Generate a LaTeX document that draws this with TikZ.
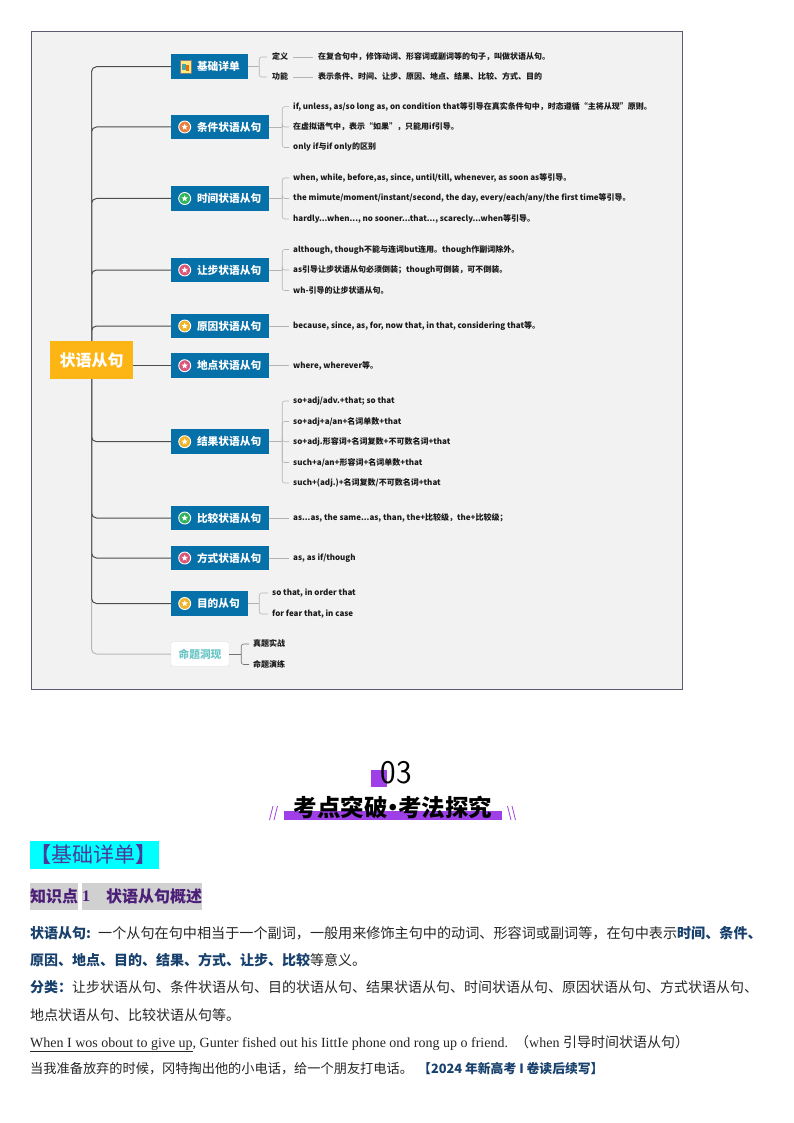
\documentclass[tikz,border=0pt]{standalone}
\usepackage{fontspec}
\usepackage{graphicx}
\setmainfont{Liberation Serif}
\newfontfamily\cjk{Noto Sans CJK SC}
\usetikzlibrary{shapes.geometric}
\definecolor{mapbg}{HTML}{F2F2F2}
\definecolor{frameline}{HTML}{5A5A70}
\definecolor{branchblue}{HTML}{0670A8}
\definecolor{mainyellow}{HTML}{FDB515}
\definecolor{twiggray}{HTML}{B4B4B4}
\definecolor{trunkgray}{HTML}{4D4D4D}
\definecolor{titlepurple}{HTML}{9E3FE8}
\definecolor{headcyan}{HTML}{00FFFF}
\definecolor{headink}{HTML}{4B3A9A}
\definecolor{subink}{HTML}{4B1E78}
\definecolor{subgray}{HTML}{D0D0D0}
\definecolor{bodyblue}{HTML}{17406D}
\definecolor{teal2}{HTML}{6CC5C5}
\definecolor{bOrange}{HTML}{E8813F}
\definecolor{bGreen}{HTML}{2FB35F}
\definecolor{bPink}{HTML}{D9577A}
\definecolor{bYellow}{HTML}{EFB42A}
\newcommand\fz[1]{\fontsize{#1}{#1}\selectfont}
\newcommand\zh[1]{{\cjk #1}}
\newcommand\hi[1]{{\cjk\bfseries\color{bodyblue}#1}}
\newcommand\badge[3]{%
  \node[badgedisc,fill=#2] (#1) at (184.7,#3) {};
  \node[badgestar] (#1s) at (#1.center) {};
}
\tikzset{
  mainbox/.style={fill=mainyellow,minimum width=83pt,minimum height=38pt,inner sep=0pt,text=white,font=\cjk\bfseries\fz{16}},
  branchbox/.style={fill=branchblue,minimum width=98pt,minimum height=24.5pt,inner sep=0pt,text=white,font=\cjk\bfseries\fz{10.7},text width=98pt,align=left},
  shortbox/.style={branchbox,minimum width=77pt,text width=77pt},
  kid/.style={anchor=west,inner xsep=4pt,inner ysep=0pt,text height=6.5pt,text depth=1.5pt,font=\cjk\bfseries\fz{8},text=black!90},
  twig/.style={draw=twiggray,line width=0.6pt,rounded corners=2.5pt},
  trunk/.style={draw=trunkgray,line width=1pt,rounded corners=5pt},
  spine/.style={draw=black!62,line width=1.5pt},
  badgedisc/.style={circle,draw=white,line width=0.9pt,minimum size=12pt,inner sep=0pt},
  badgestar/.style={star,star points=5,star point ratio=2.2,fill=white,minimum size=6.5pt,inner sep=0pt},
  bodyline/.style={anchor=base west,inner sep=0pt,font=\cjk\fz{14},text=black!85},
  slash/.style={draw=titlepurple,line width=0.8pt}
}
\begin{document}
\begin{tikzpicture}[x=1pt,y=-1pt]
\useasboundingbox (0,0) rectangle (794,1123);
\fill[white] (0,0) rectangle (794,1123);
\draw[draw=frameline,fill=mapbg,line width=0.7pt] (31,31) rectangle (682,689);

% main and branches
\node[mainbox] (main) at (91.5,360) {状语从句};
\node[shortbox] (b0) at (209.5,66.7) {\hspace*{26pt}基础详单};
\node[branchbox] (b1) at (220,127) {\hspace*{26pt}条件状语从句};
\node[branchbox] (b2) at (220,198.5) {\hspace*{26pt}时间状语从句};
\node[branchbox] (b3) at (220,270) {\hspace*{26pt}让步状语从句};
\node[branchbox] (b4) at (220,326) {\hspace*{26pt}原因状语从句};
\node[branchbox] (b5) at (220,365.7) {\hspace*{26pt}地点状语从句};
\node[branchbox] (b6) at (220,441.7) {\hspace*{26pt}结果状语从句};
\node[branchbox] (b7) at (220,518) {\hspace*{26pt}比较状语从句};
\node[branchbox] (b8) at (220,558) {\hspace*{26pt}方式状语从句};
\node[shortbox] (b9) at (209.5,603.5) {\hspace*{26pt}目的从句};
\node[draw=black!12,fill=white,rounded corners=2pt,minimum width=58pt,minimum height=24.5pt,inner sep=0pt,text=teal2,font=\cjk\bfseries\fz{10.7}] (b10) at (200,654) {命题洞现};

% trunk connectors
\draw[trunk,draw=black!28] (main.south) |- (b10.west);
\foreach \b in {b0,b1,b2,b3,b4} \draw[trunk] (main.north) |- (\b.west);
\foreach \b in {b6,b7,b8,b9} \draw[trunk] (main.south) |- (\b.west);
\draw[trunk] (main.east |- b5.west) -- (b5.west);
\draw[spine,shorten >=5pt] (main.north) -- (main.north |- b0.west);
\draw[spine,shorten >=5pt] (main.south) -- (main.south |- b9.west);

% cube icon
\fill[fill=orange!35!yellow!50] (180,60) rectangle (190.7,73);
\fill[fill=teal!70] (182,64) rectangle (186,70);
\fill[fill=orange!90!black] (185.5,65) rectangle (189,71);
\draw[draw=black!50,line width=0.3pt] (180,60) rectangle (190.7,73);

% badges
\badge{i1}{bOrange}{127}
\badge{i2}{bGreen}{198.5}
\badge{i3}{bPink}{270}
\badge{i4}{bYellow}{326}
\badge{i5}{bPink}{365.7}
\badge{i6}{bYellow}{441.7}
\badge{i7}{bGreen}{518}
\badge{i8}{bPink}{558}
\badge{i9}{bYellow}{603.5}

% children
\node[kid,inner xsep=5pt] (k0a) at (267,57) {定义};
\node[kid,inner xsep=5pt] (k0b) at (267,77) {功能};
\node[kid,inner xsep=5pt] (t0a) at (313,57) {在复合句中，修饰动词、形容词或副词等的句子，叫做状语从句。};
\node[kid,inner xsep=5pt] (t0b) at (313,77) {表示条件、时间、让步、原因、地点、结果、比较、方式、目的};
\draw[twig] (k0a.east) -- (t0a.west);
\draw[twig] (k0b.east) -- (t0b.west);

\node[kid] (k1a) at (289,106.7) {if, unless, as/so long as, on condition that等引导在真实条件句中，时态遵循“主将从现”原则。};
\node[kid] (k1b) at (289,127) {在虚拟语气中，表示“如果”，只能用if引导。};
\node[kid] (k1c) at (289,147.5) {only if与if only的区别};
\node[kid] (k2a) at (289,178) {when, while, before,as, since, until/till, whenever, as soon as等引导。};
\node[kid] (k2b) at (289,198.5) {the mimute/moment/instant/second, the day, every/each/any/the first time等引导。};
\node[kid] (k2c) at (289,219) {hardly...when..., no sooner...that..., scarecly...when等引导。};
\node[kid] (k3a) at (289,249.5) {although, though不能与连词but连用。though作副词除外。};
\node[kid] (k3b) at (289,270) {as引导让步状语从句必须倒装；though可倒装，可不倒装。};
\node[kid] (k3c) at (289,290.5) {wh-引导的让步状语从句。};
\node[kid] (k4a) at (289,326) {because, since, as, for, now that, in that, considering that等。};
\node[kid] (k5a) at (289,365.7) {where, wherever等。};
\node[kid] (k6a) at (289,401) {so+adj/adv.+that; so that};
\node[kid] (k6b) at (289,421.5) {so+adj+a/an+名词单数+that};
\node[kid] (k6c) at (289,441.7) {so+adj.形容词+名词复数+不可数名词+that};
\node[kid] (k6d) at (289,462.5) {such+a/an+形容词+名词单数+that};
\node[kid] (k6e) at (289,483) {such+(adj.)+名词复数/不可数名词+that};
\node[kid] (k7a) at (289,518) {as...as, the same...as, than, the+比较级，the+比较级；};
\node[kid] (k8a) at (289,558) {as, as if/though};
\node[kid] (k9a) at (268,593) {so that, in order that};
\node[kid] (k9b) at (268,614) {for fear that, in case};
\node[kid] (k10a) at (249,644) {真题实战};
\node[kid] (k10b) at (249,664.5) {命题演练};

% twigs
\draw[twig] (b0.east) -- ++(11,0);
\foreach \k in {k0a,k0b} \draw[twig] (b0.east) ++(11,0) |- (\k.west);
\draw[twig] (b1.east) -- ++(13,0);
\foreach \k in {k1a,k1b,k1c} \draw[twig] (b1.east) ++(13,0) |- (\k.west);
\draw[twig] (b2.east) -- ++(13,0);
\foreach \k in {k2a,k2b,k2c} \draw[twig] (b2.east) ++(13,0) |- (\k.west);
\draw[twig] (b3.east) -- ++(13,0);
\foreach \k in {k3a,k3b,k3c} \draw[twig] (b3.east) ++(13,0) |- (\k.west);
\draw[twig] (b4.east) -- (k4a.west);
\draw[twig] (b5.east) -- (k5a.west);
\draw[twig] (b6.east) -- ++(13,0);
\foreach \k in {k6a,k6b,k6c,k6d,k6e} \draw[twig] (b6.east) ++(13,0) |- (\k.west);
\draw[twig] (b7.east) -- (k7a.west);
\draw[twig] (b8.east) -- (k8a.west);
\draw[twig] (b9.east) -- ++(11,0);
\foreach \k in {k9a,k9b} \draw[twig] (b9.east) ++(11,0) |- (\k.west);
\draw[twig,draw=black!55] (b10.east) -- ++(12,0);
\foreach \k in {k10a,k10b} \draw[twig,draw=black!55] (b10.east) ++(12,0) |- (\k.west);

% section title
\fill[titlepurple] (371,770) rectangle (386.7,786.7);
\node[inner sep=0pt,font=\sffamily\fz{33}] (num) at (396,772.5) {03};
\fill[titlepurple] (284,811) rectangle (501.7,820);
\node[inner sep=0pt,font=\cjk\bfseries\fz{23.5},text=black] (ttl) at (393,807.5) {考点突破\hspace{-6.7pt}•\hspace{-6.7pt}考法探究};
\draw[slash] (269.5,820) -- (273,806);
\draw[slash] (274,820) -- (277.5,806);
\draw[slash] (507.5,806) -- (511,820);
\draw[slash] (512,806) -- (515.5,820);

% headings
\fill[headcyan] (30,841) rectangle (159,869);
\node[anchor=west,inner sep=0pt,font=\cjk\fz{21},text=headink] (h1) at (30,855) {{\bfseries 【}基础详单{\bfseries 】}};
\fill[subgray] (30,883) rectangle (78,910);
\fill[subgray] (82,883) rectangle (202,910);
\node[anchor=west,inner sep=0pt,font=\cjk\bfseries\fz{16},text=subink] (h2a) at (30,896.5) {知识点};
\node[anchor=west,inner sep=0pt,font=\bfseries\fz{16},text=subink] (h2b) at (82,896.5) {1};
\node[anchor=west,inner sep=0pt,font=\cjk\bfseries\fz{16},text=subink] (h2c) at (106,896.5) {状语从句概述};

% body
\node[bodyline] (l1a) at (30,938) {\hi{状语从句:}};
\node[bodyline,font=\cjk\fz{14.12}] (l1b) at (98,938) {一个从句在句中相当于一个副词，一般用来修饰主句中的动词、形容词或副词等，在句中表示\hi{时间、条件、}};
\node[bodyline] (l2) at (30,965) {\hi{原因、地点、目的、结果、方式、让步、比较}等意义。};
\node[bodyline] (l3) at (30,992) {\hi{分类：}让步状语从句、条件状语从句、目的状语从句、结果状语从句、时间状语从句、原因状语从句、方式状语从句、};
\node[bodyline] (l4) at (30,1020) {地点状语从句、比较状语从句等。};
\node[bodyline,font=\fz{14}] (l5) at (30,1047) {\underline{When I wos obout to give up}, Gunter fished out his IittIe phone ond rong up o friend.};
\node[bodyline,font=\fz{14}] (l5b) at (515,1047) {\zh{（}when \zh{引导时间状语从句）}};
\node[bodyline,font=\cjk\fz{13.2}] (l6) at (30,1073) {当我准备放弃的时候，冈特掏出他的小电话，给一个朋友打电话。};
\node[bodyline,font=\cjk\bfseries\fz{12.8},text=bodyblue] (l6b) at (418,1073) {【2024 年新高考 I 卷读后续写】};
\end{tikzpicture}
\end{document}
